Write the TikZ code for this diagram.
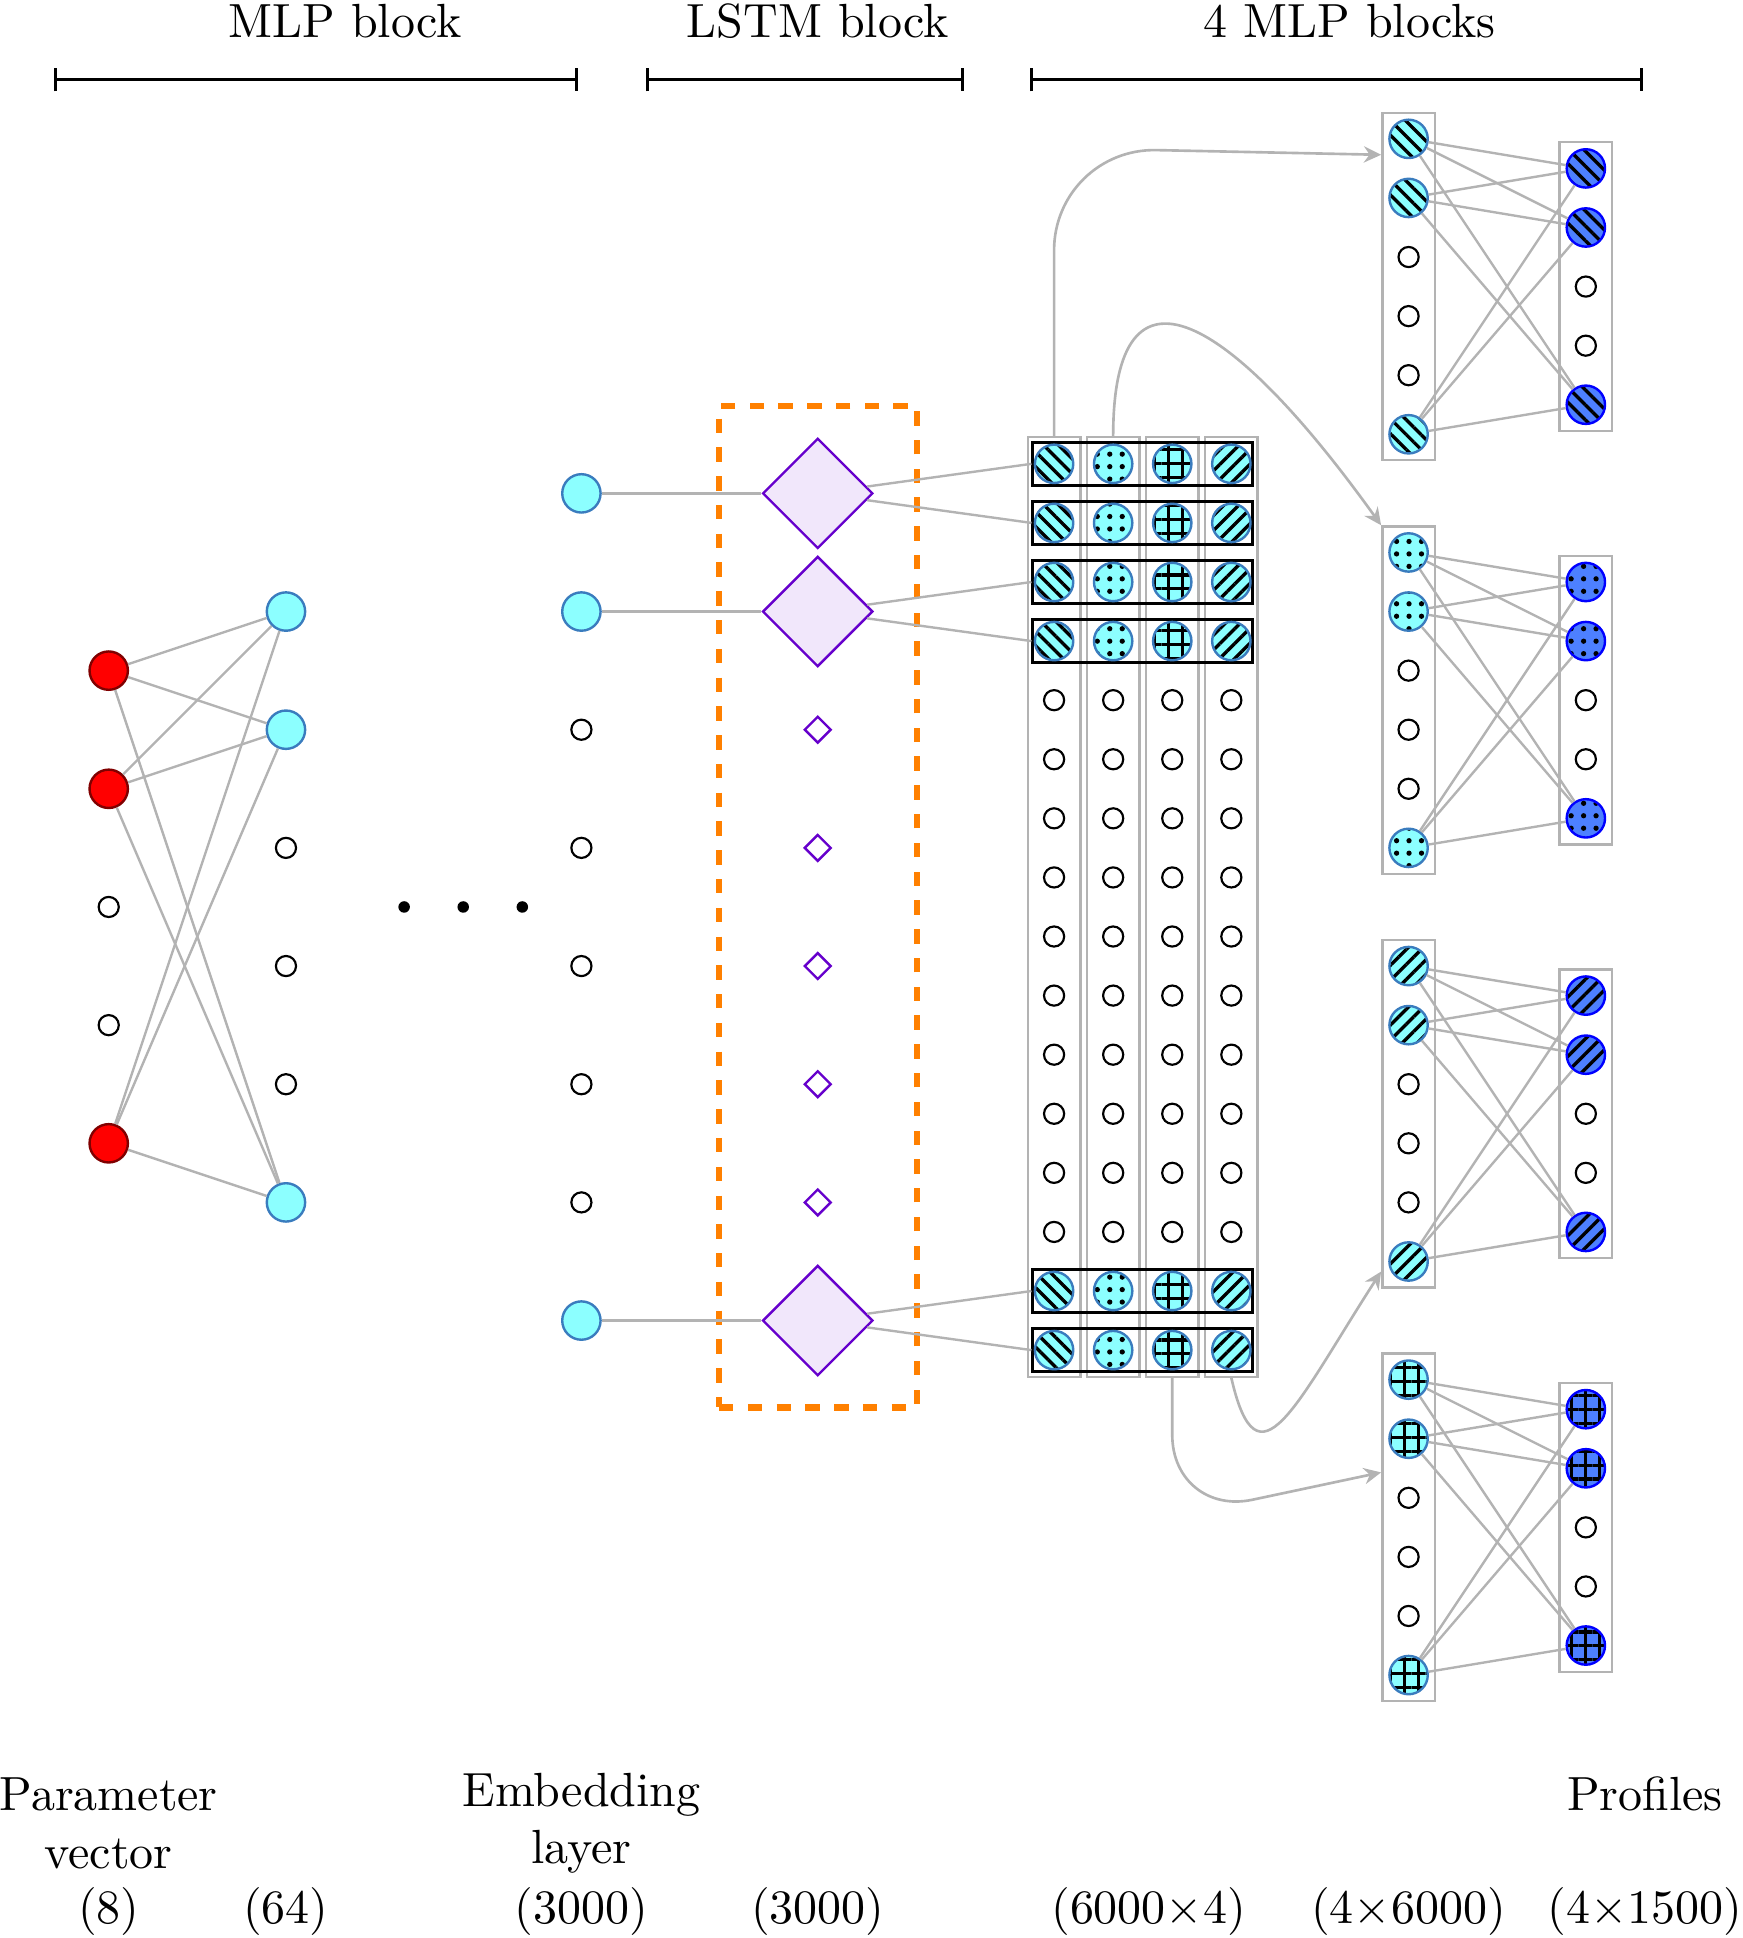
\documentclass[tikz,border=0pt]{standalone}
\usetikzlibrary{shapes.geometric, patterns, patterns.meta, arrows.meta, calc}
\definecolor{cyanfill}{RGB}{140,255,255}
\definecolor{cyanborder}{RGB}{58,124,190}
\definecolor{redborder}{RGB}{128,0,0}
\definecolor{outfill}{RGB}{77,128,255}
\definecolor{dmfill}{RGB}{241,231,251}
\definecolor{dmborder}{RGB}{102,0,204}
\definecolor{lgrey}{RGB}{179,179,179}
\definecolor{dorange}{RGB}{255,128,0}
\tikzset{
  nd/.style={circle, inner sep=0pt, minimum size=8pt, line width=0.5pt},
  rnode/.style={nd, draw=redborder, fill=red},
  cnode/.style={nd, draw=cyanborder, fill=cyanfill},
  snode/.style={circle, inner sep=0pt, minimum size=4.2pt, line width=0.45pt, draw=black, fill=white},
  dotn/.style={circle, inner sep=0pt, minimum size=2.4pt, fill=black},
  patA/.style={pattern={Lines[angle=-45,distance=2.2pt,line width=0.7pt]}, pattern color=black},
  patB/.style={pattern={Dots[distance=2.6pt,radius=0.55pt]}, pattern color=black},
  patC/.style={pattern={Hatch[angle=0,distance=2.9pt,line width=0.65pt]}, pattern color=black},
  patD/.style={pattern={Lines[angle=45,distance=2.2pt,line width=0.7pt]}, pattern color=black},
  pcyan/.style={nd, draw=cyanborder, preaction={fill=cyanfill}, preaction={#1}},
  pblue/.style={nd, draw=blue, preaction={fill=outfill}, preaction={#1}},
  bdiam/.style={diamond, draw=dmborder, fill=dmfill, minimum size=23pt, inner sep=0pt, line width=0.5pt},
  sdiam/.style={diamond, draw=dmborder, fill=white, minimum size=5.6pt, inner sep=0pt, line width=0.5pt},
  edge/.style={draw=lgrey, line width=0.5pt},
  colbox/.style={draw=lgrey, line width=0.5pt, rectangle, inner sep=0pt, minimum width=0.385cm},
  rowbox/.style={draw=black, line width=0.55pt, rectangle, inner sep=0pt, minimum width=1.611cm, minimum height=0.314cm},
  lstmbox/.style={draw=dorange, line width=1.4pt, dashed, rectangle, inner sep=0pt, minimum width=1.4506cm, minimum height=7.339cm},
  arr/.style={draw=lgrey, line width=0.55pt, -{Stealth[length=3.6pt,width=3.4pt,inset=1.2pt]}},
  bracket/.style={line width=0.65pt, {Bar[width=4.8pt]}-{Bar[width=4.8pt]}},
  lbl/.style={inner sep=0pt, anchor=base},
  lbl2/.style={inner sep=0pt, anchor=center, align=center}
}
\begin{document}
\begin{tikzpicture}[x=0.433cm, y=0.433cm]
\useasboundingbox (-1.84,-17.45) rectangle (27.65,15.35);

% ---------- top labels and brackets ----------
\node[lbl] (tMLP) at (4,14.71) {MLP block};
\node[lbl] (tLSTM) at (12,14.71) {LSTM block};
\node[lbl] (t4MLP) at (21,14.71) {4 MLP blocks};
\coordinate (br1a) at (-0.93,14); \coordinate (br1b) at (7.95,14);
\coordinate (br2a) at (9.09,14);  \coordinate (br2b) at (14.47,14);
\coordinate (br3a) at (15.59,14); \coordinate (br3b) at (25.97,14);
\draw[bracket] (br1a) -- (br1b);
\draw[bracket] (br2a) -- (br2b);
\draw[bracket] (br3a) -- (br3b);

% ---------- first MLP block ----------
\node[rnode] (a1) at (0,4) {};
\node[rnode] (a2) at (0,2) {};
\node[snode] (a3) at (0,0) {};
\node[snode] (a4) at (0,-2) {};
\node[rnode] (a5) at (0,-4) {};
\node[cnode] (h1) at (3,5) {};
\node[cnode] (h2) at (3,3) {};
\node[snode] (h3) at (3,1) {};
\node[snode] (h4) at (3,-1) {};
\node[snode] (h5) at (3,-3) {};
\node[cnode] (h6) at (3,-5) {};
\foreach \s in {a1,a2,a5} \foreach \t in {h1,h2,h6} \draw[edge] (\s) -- (\t);

\node[dotn] (dt1) at (5,0) {};
\node[dotn] (dt2) at (6,0) {};
\node[dotn] (dt3) at (7,0) {};

% ---------- embedding layer ----------
\node[cnode] (e1) at (8,7) {};
\node[cnode] (e2) at (8,5) {};
\node[snode] (e3) at (8,3) {};
\node[snode] (e4) at (8,1) {};
\node[snode] (e5) at (8,-1) {};
\node[snode] (e6) at (8,-3) {};
\node[snode] (e7) at (8,-5) {};
\node[cnode] (e8) at (8,-7) {};

% ---------- LSTM ----------
\node[lstmbox] (lstm) at (12.005,0.005) {};
\node[bdiam] (l1) at (12,7) {};
\node[bdiam] (l2) at (12,5) {};
\node[sdiam] (l3) at (12,3) {};
\node[sdiam] (l4) at (12,1) {};
\node[sdiam] (l5) at (12,-1) {};
\node[sdiam] (l6) at (12,-3) {};
\node[sdiam] (l7) at (12,-5) {};
\node[bdiam] (l8) at (12,-7) {};
\draw[edge] (e1) -- (l1);
\draw[edge] (e2) -- (l2);
\draw[edge] (e8) -- (l8);

% ---------- big 6000x4 block ----------
\foreach \c in {1,2,3,4} \node[colbox, minimum height=6.885cm] (col\c) at (15+\c,0) {};
\foreach \j in {1,2,3,4,15,16} \node[rowbox] (row\j) at (17.5,{8.5-\j}) {};
\foreach \c/\p in {1/patA,2/patB,3/patC,4/patD}{
  \foreach \j in {1,2,3,4,15,16} \node[pcyan=\p] (c\c r\j) at ({15+\c},{8.5-\j}) {};
  \foreach \j in {5,...,14} \node[snode] (c\c r\j) at ({15+\c},{8.5-\j}) {};
}
\draw[edge] (l1) -- (row1.west);
\draw[edge] (l1) -- (row2.west);
\draw[edge] (l2) -- (row3.west);
\draw[edge] (l2) -- (row4.west);
\draw[edge] (l8) -- (row15.west);
\draw[edge] (l8) -- (row16.west);

% ---------- four MLP blocks ----------
\foreach \b/\yt/\p in {1/13/patA, 2/6/patB, 3/-1/patD, 4/-8/patC}{
  \node[colbox, minimum height=2.546cm] (bl\b) at (22,{\yt-2.5}) {};
  \node[colbox, minimum height=2.117cm] (br\b) at (25,{\yt-2.5}) {};
  \foreach \k in {0,1,5} \node[pcyan=\p] (b\b-l\k) at (22,{\yt-\k}) {};
  \foreach \k in {2,3,4} \node[snode] (b\b-l\k) at (22,{\yt-\k}) {};
  \foreach \k in {0,1,4} \node[pblue=\p] (b\b-r\k) at (25,{\yt-0.5-\k}) {};
  \foreach \k in {2,3} \node[snode] (b\b-r\k) at (25,{\yt-0.5-\k}) {};
  \foreach \i in {0,1,5} \foreach \j in {0,1,4} \draw[edge] (b\b-l\i) -- (b\b-r\j);
}

% ---------- curved arrows ----------
\coordinate (t1) at ($(bl1.north west)+(0,-0.73)$);
\coordinate (t3) at ($(bl3.south west)+(0,0.29)$);
\coordinate (t4) at ($(bl4.north west)+(0,-2.03)$);
\draw[arr, rounded corners=0.75cm] (col1.north) -- ++(0,4.875) -- (t1);
\draw[arr] (col2.north) .. controls +(0,3.24) and +(-2.55,3.56) .. (bl2.north west);
\draw[arr] (col4.south) .. controls +(0.45,-1.96) and +(-1.45,-2.25) .. (t3);
\draw[arr, rounded corners=0.6cm] (col3.south) -- ++(0,-2.35) -- (t4);

% ---------- bottom labels ----------
\node[lbl2] (lPar) at (0,-15.51) {Parameter\\vector};
\node[lbl2] (lEmb) at (8,-15.51) {Embedding\\layer};
\node[lbl] (lProf) at (26,-15.30) {Profiles};
\node[lbl] (n1) at (0,-17.2) {(8)};
\node[lbl] (n2) at (3,-17.2) {(64)};
\node[lbl] (n3) at (8,-17.2) {(3000)};
\node[lbl] (n4) at (12,-17.2) {(3000)};
\node[lbl] (n5) at (17.6,-17.2) {(6000$\times$4)};
\node[lbl] (n6) at (22,-17.2) {(4$\times$6000)};
\node[lbl] (n7) at (26,-17.2) {(4$\times$1500)};
\end{tikzpicture}
\end{document}
